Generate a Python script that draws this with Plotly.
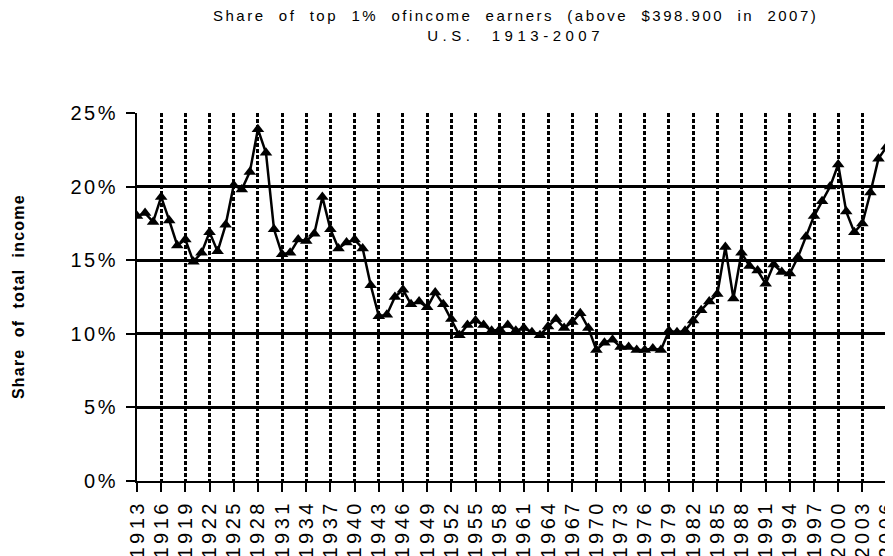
import plotly.graph_objects as go

years = list(range(1913, 2008))
share = [
    18.0, 18.2, 17.6, 19.3, 17.7, 16.0, 16.4, 14.9, 15.5, 16.9,   # 1913-1922
    15.6, 17.4, 20.1, 19.8, 21.0, 23.9, 22.3, 17.1, 15.4, 15.5,   # 1923-1932
    16.4, 16.3, 16.8, 19.3, 17.1, 15.8, 16.2, 16.4, 15.8, 13.3,   # 1933-1942
    11.2, 11.3, 12.5, 13.0, 12.0, 12.2, 11.8, 12.8, 12.0, 11.0,   # 1943-1952
    9.9, 10.6, 10.9, 10.6, 10.2, 10.3, 10.6, 10.2, 10.4, 10.1,    # 1953-1962
    9.9, 10.5, 11.0, 10.4, 10.8, 11.4, 10.4, 8.9, 9.4, 9.6,       # 1963-1972
    9.1, 9.1, 8.9, 8.9, 9.0, 8.9, 10.2, 10.1, 10.2, 10.9,         # 1973-1982
    11.6, 12.2, 12.7, 15.9, 12.4, 15.5, 14.6, 14.3, 13.4, 14.7,   # 1983-1992
    14.2, 14.1, 15.2, 16.6, 18.0, 19.0, 20.0, 21.5, 18.3, 16.9,   # 1993-2002
    17.5, 19.6, 21.9, 22.7, 23.4                                  # 2003-2007
]
tick_years = list(range(1913, 2008, 3))
y_ticks = [0, 5, 10, 15, 20, 25]
y_labels = ["0%", "5%", "10%", "15%", "20%", "25%"]
title_line1 = "Share\u00a0 of\u00a0 top\u00a0 1%\u00a0 ofincome\u00a0 earners\u00a0 (above\u00a0 $398.900\u00a0 in\u00a0 2007)"
title_line2 = "U.S.\u00a0 1913-2007"
y_title = "Share\u00a0 of\u00a0 total\u00a0 income"


def spaced(s, px):
    return f'<span style="letter-spacing:{px}px">{s}</span>'


# the page body has an 8px margin, so the figure is drawn 8px in from the corner
FIG_W, FIG_H = 885, 548
ML, MR, MT, MB = 129, 0, 105, 75
PLOT_W = FIG_W - ML - MR
PLOT_H = FIG_H - MT - MB

fig = go.Figure()
fig.add_trace(go.Scatter(
    x=years, y=share, mode="lines+markers",
    line=dict(color="black", width=2.5),
    marker=dict(symbol="triangle-up", size=11, color="black"),
    showlegend=False,
))

fig.add_annotation(
    text=spaced(title_line1, 2.5) + "<br>" + spaced(title_line2, 4.5),
    xref="paper", yref="paper", x=0.5, y=1 + (MT + 3) / PLOT_H,
    xanchor="center", yanchor="top", showarrow=False, align="center",
    font=dict(family="Liberation Sans", size=15, color="black"),
)
fig.add_annotation(
    text=spaced(y_title, 1.2), xref="paper", yref="paper",
    x=-(137 - 18) / PLOT_W, y=(481 - 297) / PLOT_H, xanchor="center", yanchor="middle",
    textangle=-90, showarrow=False,
    font=dict(family="Liberation Sans", size=16, color="black", weight="bold"),
)

fig.update_layout(
    width=FIG_W, height=FIG_H,
    margin=dict(l=ML, r=MR, t=MT, b=MB),
    paper_bgcolor="white", plot_bgcolor="white",
    xaxis=dict(
        range=[1913, 2006.8], tickmode="array", tickvals=tick_years,
        ticktext=[spaced(str(y), 3.5) for y in tick_years], tickangle=-90,
        showgrid=True, gridcolor="black", gridwidth=2.5, griddash="4px,2px",
        ticks="outside", ticklen=9, tickwidth=2, tickcolor="black",
        showline=True, linecolor="black", linewidth=2,
        zeroline=False, automargin=False, ticklabelstandoff=0,
        ticklabeloverflow="allow",
        tickfont=dict(family="Liberation Sans", size=20, color="black"),
    ),
    yaxis=dict(
        range=[0, 25], tickmode="array", tickvals=y_ticks,
        ticktext=[spaced(t, 2.5) for t in y_labels],
        showgrid=True, gridcolor="black", gridwidth=2.5,
        ticks="outside", ticklen=9, tickwidth=2, tickcolor="black",
        showline=True, linecolor="black", linewidth=2,
        zeroline=False, automargin=False, ticklabelstandoff=4,
        tickfont=dict(family="Liberation Sans", size=20, color="black"),
    ),
)

fig.write_html("out.html")
